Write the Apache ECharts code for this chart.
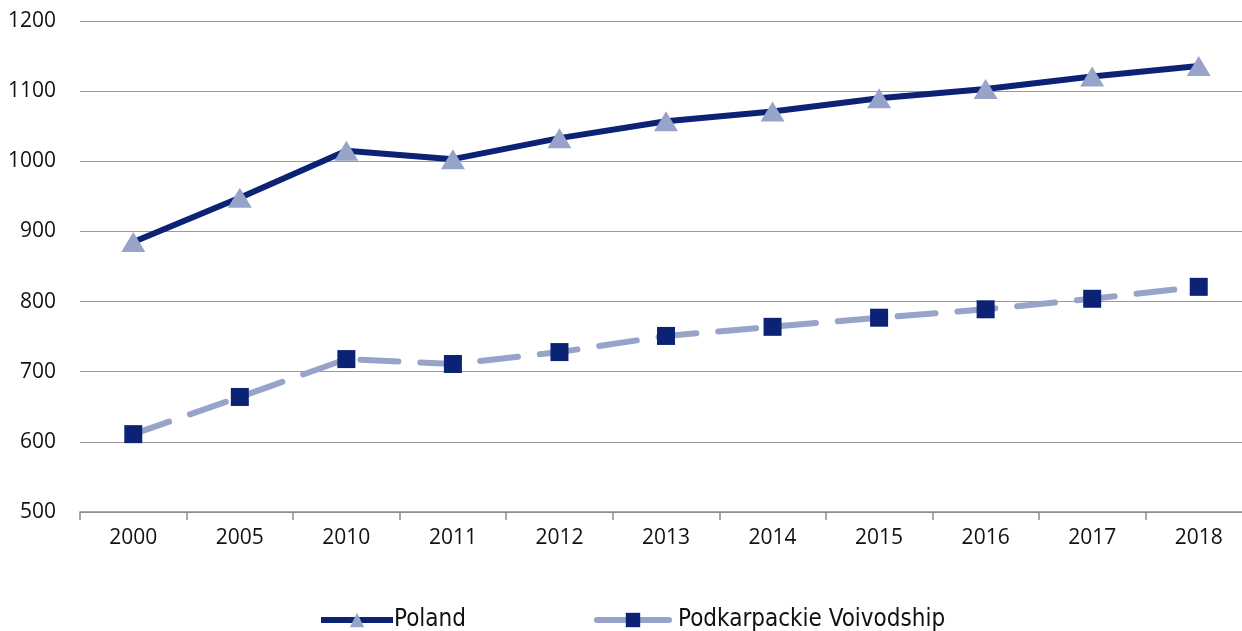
<!DOCTYPE html>
<html>
<head>
<meta charset="utf-8">
<script src="https://cdn.jsdelivr.net/npm/echarts@6/dist/echarts.min.js"></script>
<style>
  html, body { margin: 0; padding: 0; background: #fff; overflow: hidden; }
  #grafico { width: 1252px; height: 631px; }
</style>
</head>
<body>
<div id="grafico"></div>
<script>
// years on the x axis
const anios = ['2000', '2005', '2010', '2011', '2012', '2013', '2014', '2015', '2016', '2017', '2018']
const poland = [885, 948, 1015, 1003, 1033, 1057, 1071, 1090, 1103, 1121, 1136]
const podkarpackie = [611, 664, 718, 711, 728, 751, 764, 777, 789, 804, 821]

const oscuro = '#0b2275'
const claro = '#97a3c8'

let myChart = echarts.init(document.getElementById('grafico'))

let option = {
  animation: false,
  textStyle: { fontFamily: 'Open Sans' },
  grid: { left: 80, right: 0, top: 21, bottom: 119 },
  legend: {
    bottom: -6,
    left: 313,
    itemWidth: 72,
    itemHeight: 18,
    itemGap: 128,
    textStyle: { fontFamily: 'DejaVu Sans Condensed', fontSize: 24, color: '#111', padding: [0, 0, 0, -4] },
    data: [
      { name: 'Poland', lineStyle: { width: 6 } },
      { name: 'Podkarpackie Voivodship', lineStyle: { type: 'solid', width: 6 }, textStyle: { padding: [0, 0, 0, 4] } }
    ]
  },
  xAxis: {
    type: 'category',
    data: anios,
    boundaryGap: true,
    axisLine: { lineStyle: { color: '#8c8c8c', width: 1.5 } },
    axisTick: { show: true, length: 8, lineStyle: { color: '#8c8c8c', width: 1.5 } },
    axisLabel: { color: '#111', fontSize: 21, margin: 16 }
  },
  yAxis: {
    type: 'value',
    min: 500,
    max: 1200,
    interval: 100,
    axisLine: { show: false },
    axisTick: { show: false },
    axisLabel: { color: '#111', fontSize: 21, margin: 24, formatter: v => String(v) },
    splitLine: { lineStyle: { color: '#9a9a9a', width: 1.2 } }
  },
  series: [
    {
      name: 'Poland',
      type: 'line',
      data: poland,
      symbol: 'triangle',
      symbolSize: [24, 20],
      itemStyle: { color: claro },
      lineStyle: { color: oscuro, width: 6 }
    },
    {
      name: 'Podkarpackie Voivodship',
      type: 'line',
      data: podkarpackie,
      symbol: 'rect',
      symbolSize: 18,
      itemStyle: { color: oscuro },
      lineStyle: { color: claro, width: 6, type: [38, 22], cap: 'round' }
    }
  ]
}

myChart.setOption(option)
</script>
</body>
</html>
